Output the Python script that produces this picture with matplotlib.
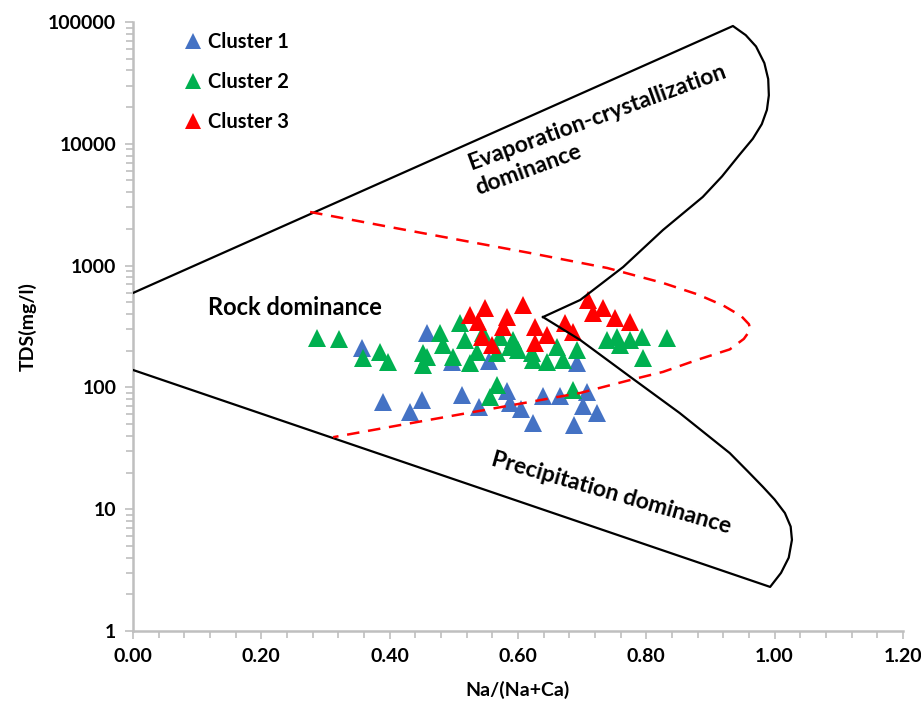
import matplotlib
matplotlib.use("Agg")
from matplotlib import pyplot as plt
from matplotlib.ticker import MultipleLocator, FixedLocator, LogLocator, NullFormatter

plt.rcParams['font.family'] = ['Lato', 'DejaVu Sans']

# Gibbs diagram boundaries (Na/(Na+Ca), TDS)
upper_x = [0.0, 0.935, 0.955, 0.971, 0.984, 0.990, 0.991, 0.988, 0.980, 0.966, 0.945,
           0.918, 0.888, 0.826, 0.764, 0.697, 0.639]
upper_y = [596, 92700, 78000, 63000, 46000, 34000, 25000, 19000, 14500, 11000, 8100,
           5400, 3660, 1960, 974, 522, 378]

lower_x = [0.0, 0.993, 1.010, 1.022, 1.027, 1.025, 1.016, 1.000, 0.982, 0.958, 0.930,
           0.852, 0.775, 0.697, 0.639]
lower_y = [139, 2.3, 3.0, 4.0, 5.6, 7.2, 9.3, 12.0, 15.2, 20.5, 28.9,
           61.6, 122, 245, 378]

# red dashed envelope
env_x = [0.276, 0.40, 0.619, 0.739, 0.826, 0.880, 0.920, 0.948, 0.960, 0.962, 0.952,
         0.930, 0.879, 0.826, 0.775, 0.697, 0.416, 0.312]
env_y = [2755, 2075, 1268, 956, 720, 580, 470, 385, 330, 296, 250,
         205, 168, 134, 115, 90, 49, 39]

# cluster samples
c1_x = [0.357, 0.458, 0.390, 0.432, 0.450, 0.513, 0.539, 0.497, 0.555, 0.583, 0.588,
        0.605, 0.623, 0.639, 0.665, 0.692, 0.707, 0.701, 0.723, 0.687]
c1_y = [211, 280, 76, 63, 79, 87, 69, 162, 165, 93, 74,
        67, 51, 85, 85, 159, 92, 70, 62, 49]

c2_x = [0.287, 0.321, 0.358, 0.385, 0.397, 0.452, 0.452, 0.458, 0.478, 0.483, 0.499,
        0.510, 0.517, 0.525, 0.545, 0.536, 0.567, 0.572, 0.588, 0.592, 0.600, 0.622,
        0.623, 0.645, 0.661, 0.670, 0.692, 0.739, 0.754, 0.775, 0.793, 0.832, 0.795,
        0.759, 0.686, 0.567, 0.556]
c2_y = [255, 250, 174, 195, 162, 192, 153, 178, 280, 223, 178,
        338, 245, 159, 280, 195, 192, 259, 215, 245, 203, 192,
        168, 162, 215, 168, 203, 245, 259, 245, 259, 255, 174,
        223, 95, 105, 83]

c3_x = [0.525, 0.549, 0.538, 0.583, 0.577, 0.544, 0.559, 0.608, 0.626, 0.626, 0.645,
        0.709, 0.732, 0.717, 0.751, 0.775, 0.673, 0.686]
c3_y = [393, 449, 344, 378, 313, 259, 223, 475, 313, 232, 269,
        522, 449, 408, 371, 344, 338, 285]

fig = plt.figure(figsize=(9.21, 7.05), dpi=100)
ax = fig.add_axes([0.1444, 0.105, 0.836, 0.8638])

ms = 13.5
ax.plot(c1_x, c1_y, "^", color="#4472C4", ms=ms, mew=0, label="Cluster 1", zorder=3)
ax.plot(c2_x, c2_y, "^", color="#00B050", ms=ms, mew=0, label="Cluster 2", zorder=4)
ax.plot(c3_x, c3_y, "^", color="#FF0000", ms=ms, mew=0, label="Cluster 3", zorder=5)

ax.plot(upper_x, upper_y, color="black", lw=1.6, zorder=6)
ax.plot(lower_x, lower_y, color="black", lw=1.6, zorder=6)
ax.plot(env_x, env_y, color="#FF0000", lw=1.8, ls=(0, (5, 3.5)), zorder=6)

ax.set_yscale("log")
ax.set_xlim(0, 1.2)
ax.set_ylim(1, 100000)

# text labels on the regions
tkw = dict(fontweight="bold", ha="center", va="center")
ax.text(0.723, 16600, "Evaporation-crystallization", rotation=20, fontsize=16.5, **tkw)
ax.text(0.616, 6100, "dominance", rotation=20, fontsize=16.5, **tkw)
ax.text(0.253, 457, "Rock dominance", fontsize=17, **tkw)
ax.text(0.746, 13.6, "Precipitation dominance", rotation=-16, fontsize=16.5, **tkw)

# axis styling, excel-like
for s in ["top", "right"]:
    ax.spines[s].set_visible(False)
for s in ["left", "bottom"]:
    ax.spines[s].set_color("#BFBFBF")
    ax.spines[s].set_linewidth(1.8)

ax.xaxis.set_major_locator(MultipleLocator(0.2))
ax.xaxis.set_minor_locator(MultipleLocator(0.04))
ax.xaxis.set_major_formatter(plt.FuncFormatter(lambda v, p: "%.2f" % v))
ax.yaxis.set_major_locator(FixedLocator([1, 10, 100, 1000, 10000, 100000]))
ax.yaxis.set_major_formatter(plt.FuncFormatter(lambda v, p: "%d" % v))
ax.yaxis.set_minor_locator(LogLocator(base=10, subs=range(2, 10), numticks=20))
ax.yaxis.set_minor_formatter(NullFormatter())
ax.tick_params(which="both", color="#BFBFBF", width=1.2, direction="out")
ax.tick_params(which="major", length=6, labelsize=14, pad=6)
ax.tick_params(which="minor", length=5)
for lab in ax.get_xticklabels() + ax.get_yticklabels():
    lab.set_fontweight("bold")

ax.set_xlabel("Na/(Na+Ca)", fontsize=14, fontweight="bold", labelpad=12)
ax.set_ylabel("TDS(mg/l)", fontsize=14, fontweight="bold", labelpad=8)

ax.legend(loc="upper left", bbox_to_anchor=(0.055, 1.0), frameon=False,
          handlelength=0.8, handletextpad=0.3, labelspacing=1.0, borderpad=0,
          prop={"size": 14.5, "weight": "bold"}, markerscale=0.85)

plt.savefig("out.png", dpi=100)
